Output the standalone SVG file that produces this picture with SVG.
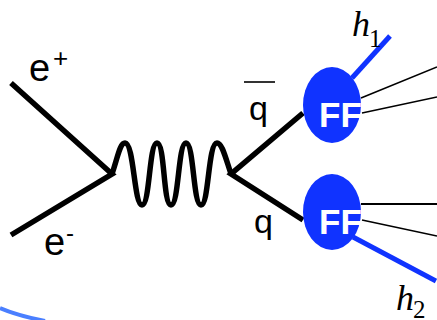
<svg xmlns="http://www.w3.org/2000/svg" width="437" height="320" viewBox="0 0 437 320">
<style>
.l{fill:none;stroke:#000;stroke-width:5.5}
.t{stroke:#000;fill:none;stroke-width:1.6}
.h{stroke:#1033ff;fill:none;stroke-width:5}
.b{fill:#1033ff}
.s{font-family:"Liberation Sans",Arial,sans-serif;fill:#000}
.i{font-family:"Liberation Serif","Times New Roman",serif;fill:#000}
.ff{font-family:"Liberation Sans",Arial,sans-serif;font-weight:bold;fill:#fff;font-size:35px}
</style>
<rect width="437" height="320" fill="#fff"/>
<g id="connectors">
<path class="l" d="M11 83L112 174L11 235"/>
<path class="l" d="M112 174C118 156 120 143 125 143C134 143 134 205 142 205C150 205 149 143 157 143C165 143 163 205 171 205C179 205 178 143 186 143C194 143 193 205 201 205C209 205 208 143 217 143C222 143 225 156 231 174"/>
<path class="l" d="M303 113L231 174L303 220"/>
<path class="h" d="M352 78L390 36"/>
<path class="h" d="M353 237L436 281"/>
<path class="t" d="M361 98L437 67M362 113L437 97"/>
<path class="t" style="stroke-width:2" d="M361 204H437"/>
<path class="t" d="M362 220L437 236"/>
<path d="M244 82H275" class="t"/>
<path d="M0 308C14 314 30 318 45 321" fill="none" stroke="#4a7fff" stroke-width="4"/>
</g>
<g id="ff1"><ellipse class="b" cx="332" cy="105" rx="29" ry="38"/><text class="ff" x="319" y="127">FF</text></g>
<g id="ff2"><ellipse class="b" cx="332" cy="212" rx="29" ry="38"/><text class="ff" x="319" y="234">FF</text></g>
<g id="labels">
<text class="s" font-size="38" x="29" y="81">e</text><text class="s" font-size="26" x="53" y="67">+</text>
<text class="s" font-size="38" x="44" y="255">e</text><text class="s" font-size="24" x="66" y="241">-</text>
<text class="s" font-size="34" x="249" y="120">q</text>
<text class="s" font-size="34" x="254" y="233">q</text>
<text class="i" font-size="36" font-style="italic" x="352" y="36">h</text><text class="i" font-size="25" x="369" y="47">1</text>
<text class="i" font-size="36" font-style="italic" x="396" y="310">h</text><text class="i" font-size="25" x="413" y="318">2</text>
</g>
</svg>
